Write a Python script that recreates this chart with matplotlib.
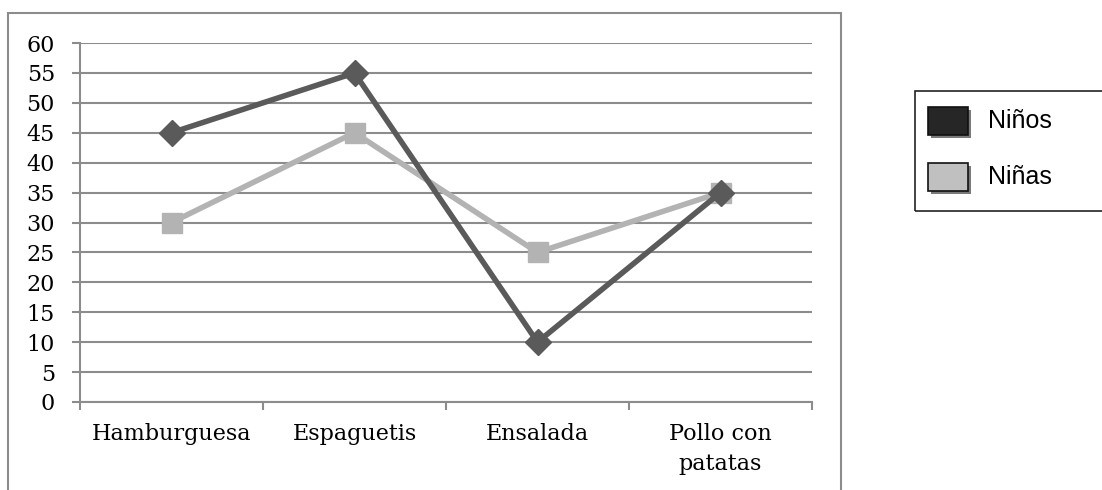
import matplotlib
matplotlib.use("Agg")
import matplotlib.pyplot as plt
from matplotlib.patches import Rectangle

# Comidas favoritas por grupo
categories = ["Hamburguesa", "Espaguetis", "Ensalada", "Pollo con\npatatas"]
ninos = [45, 55, 10, 35]
ninas = [30, 45, 25, 35]
yticks = list(range(0, 65, 5))

W, H = 1102, 490
fig = plt.figure(figsize=(W / 100, H / 100), dpi=100)

def fx(px):
    return px / W

def fy(py):
    return 1 - py / H

# marco exterior del gráfico
fig.add_artist(Rectangle((fx(8), fy(520)), fx(841) - fx(8), fy(13) - fy(520),
                         transform=fig.transFigure, fill=False,
                         edgecolor="#8c8c8c", lw=1.5, clip_on=False))

ax = fig.add_axes([fx(80), fy(402), fx(812) - fx(80), fy(43) - fy(402)])

grid_c = "#8c8c8c"
x = [i + 0.5 for i in range(len(categories))]

ax.plot(x, ninas, color="#b3b3b3", lw=4, marker="s", ms=14,
        markerfacecolor="#b3b3b3", markeredgecolor="#b3b3b3", zorder=3)
ax.plot(x, ninos, color="#5a5a5a", lw=4, marker="D", ms=13,
        markerfacecolor="#5a5a5a", markeredgecolor="#5a5a5a", zorder=4)

ax.set_xlim(0, len(categories))
ax.set_ylim(0, 60)
ax.set_yticks(yticks)
ax.set_yticklabels([str(v) for v in yticks])
ax.yaxis.grid(True, color=grid_c, lw=1.5)
ax.set_axisbelow(True)

ax.set_xticks(range(len(categories) + 1))
ax.set_xticklabels([])
ax.set_xticks(x, minor=True)
ax.set_xticklabels(categories, minor=True, fontsize=16, family="DejaVu Serif",
                   linespacing=1.5)
ax.tick_params(axis="x", which="minor", length=0, pad=15)
ax.tick_params(axis="x", which="major", length=6, width=1.5, color=grid_c)
ax.tick_params(axis="y", length=6, width=1.5, color=grid_c, pad=12)
for lab in ax.get_yticklabels():
    lab.set_fontsize(16)
    lab.set_family("DejaVu Serif")

for side in ("top", "right"):
    ax.spines[side].set_visible(False)
for side in ("left", "bottom"):
    ax.spines[side].set_color(grid_c)
    ax.spines[side].set_linewidth(1.5)

# leyenda
fig.add_artist(Rectangle((fx(915), fy(211)), fx(1110) - fx(915), fy(91) - fy(211),
                         transform=fig.transFigure, fill=False,
                         edgecolor="#222222", lw=1.2, clip_on=False))
legend_items = [("Niños", "#262626", 107), ("Niñas", "#c0c0c0", 163)]
for label, fill, top in legend_items:
    fig.add_artist(Rectangle((fx(931), fy(top + 31)), fx(40) - fx(0), fy(0) - fy(28),
                             transform=fig.transFigure, facecolor="#7a7a7a",
                             edgecolor="none"))
    fig.add_artist(Rectangle((fx(928), fy(top + 28)), fx(40) - fx(0), fy(0) - fy(28),
                             transform=fig.transFigure, facecolor=fill,
                             edgecolor="#111111", lw=1.2))
    fig.text(fx(988), fy(top + 14), label, fontsize=18, family="Liberation Sans",
             va="center", ha="left")

fig.savefig("out.png", dpi=100)
